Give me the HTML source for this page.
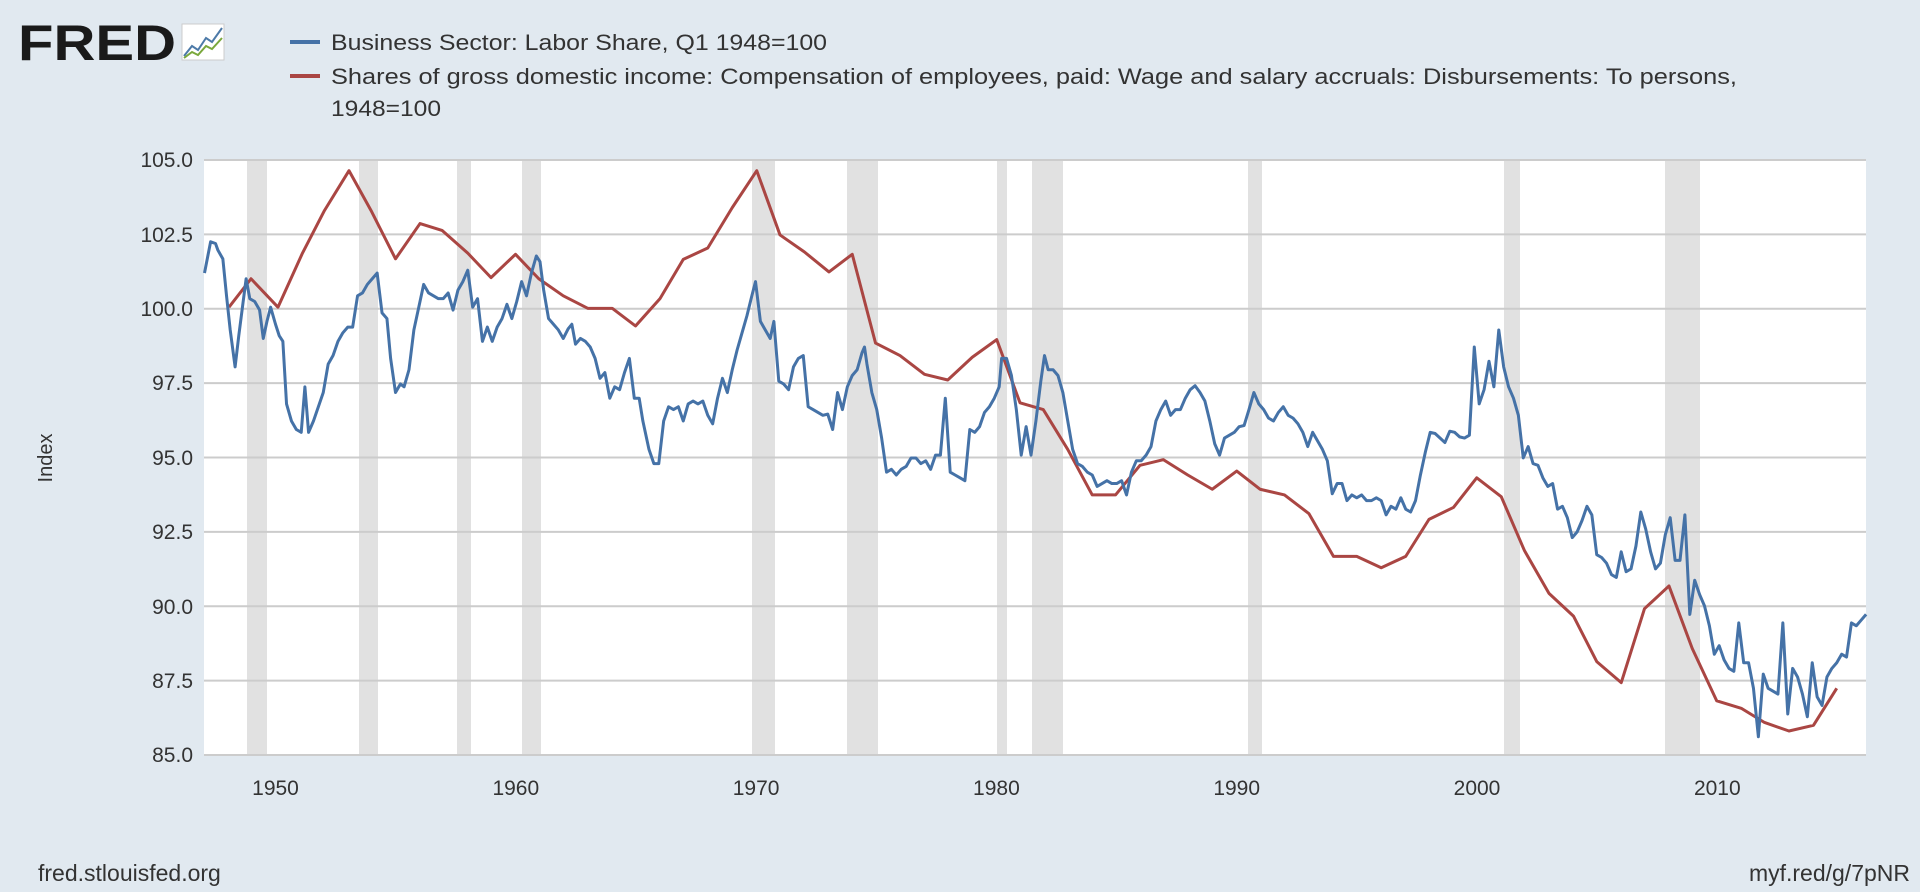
<!DOCTYPE html>
<html><head><meta charset="utf-8"><style>
html,body{margin:0;padding:0;background:#e1e9f0;}
svg{display:block;font-family:"Liberation Sans",sans-serif;}
</style></head><body>
<svg width="1920" height="892" viewBox="0 0 1920 892" xmlns="http://www.w3.org/2000/svg">
<rect width="1920" height="892" fill="#e1e9f0"/>
<!-- logo -->
<text x="18" y="60" font-size="50" font-weight="bold" fill="#1a1a1a" textLength="158" lengthAdjust="spacingAndGlyphs">FRED</text>
<rect x="182" y="24" width="42" height="36" fill="#fff" stroke="#ccc" stroke-width="1"/>
<polyline points="184,56 192,46 198,50 206,38 212,42 222,28" fill="none" stroke="#4d7aa8" stroke-width="2"/>
<polyline points="184,58 192,52 198,55 206,46 212,49 222,38" fill="none" stroke="#7aa83c" stroke-width="2"/>
<!-- legend -->
<line x1="290" y1="42" x2="320" y2="42" stroke="#4572a7" stroke-width="4"/>
<text x="331" y="50" font-size="22" fill="#333" textLength="496" lengthAdjust="spacingAndGlyphs">Business Sector: Labor Share, Q1 1948=100</text>
<line x1="290" y1="76" x2="320" y2="76" stroke="#aa4643" stroke-width="4"/>
<text x="331" y="84" font-size="22" fill="#333" textLength="1406" lengthAdjust="spacingAndGlyphs">Shares of gross domestic income: Compensation of employees, paid: Wage and salary accruals: Disbursements: To persons,</text>
<text x="331" y="116" font-size="22" fill="#333" textLength="110" lengthAdjust="spacingAndGlyphs">1948=100</text>
<!-- plot -->
<rect x="204" y="160" width="1662" height="595" fill="#fff"/>
<g fill="#e1e1e1">
<rect x="247" y="160" width="20" height="595"/><rect x="359" y="160" width="19" height="595"/>
<rect x="457" y="160" width="14" height="595"/><rect x="522" y="160" width="19" height="595"/>
<rect x="752" y="160" width="23" height="595"/><rect x="847" y="160" width="31" height="595"/>
<rect x="997" y="160" width="10" height="595"/><rect x="1032" y="160" width="31" height="595"/>
<rect x="1248" y="160" width="14" height="595"/><rect x="1504" y="160" width="16" height="595"/>
<rect x="1665" y="160" width="35" height="595"/>
</g>
<g stroke="#cccccc" stroke-width="2">
<line x1="204" y1="160" x2="1866" y2="160"/><line x1="204" y1="234.4" x2="1866" y2="234.4"/>
<line x1="204" y1="308.8" x2="1866" y2="308.8"/><line x1="204" y1="383.1" x2="1866" y2="383.1"/>
<line x1="204" y1="457.5" x2="1866" y2="457.5"/><line x1="204" y1="531.9" x2="1866" y2="531.9"/>
<line x1="204" y1="606.3" x2="1866" y2="606.3"/><line x1="204" y1="680.6" x2="1866" y2="680.6"/>
<line x1="204" y1="755" x2="1866" y2="755"/>
</g>
<g font-size="21" fill="#333" text-anchor="end">
<text x="193" y="167">105.0</text><text x="193" y="242">102.5</text><text x="193" y="316">100.0</text>
<text x="193" y="390">97.5</text><text x="193" y="465">95.0</text><text x="193" y="539">92.5</text>
<text x="193" y="614">90.0</text><text x="193" y="688">87.5</text><text x="193" y="762">85.0</text>
</g>
<text transform="translate(52,458) rotate(-90)" font-size="20" fill="#333" text-anchor="middle">Index</text>
<g font-size="21" fill="#333" text-anchor="middle">
<text x="275.5" y="795">1950</text><text x="515.8" y="795">1960</text><text x="756.1" y="795">1970</text>
<text x="996.4" y="795">1980</text><text x="1236.7" y="795">1990</text><text x="1477" y="795">2000</text>
<text x="1717.3" y="795">2010</text>
</g>
<g transform="scale(1.22449,0.568878)" fill="none" stroke-linejoin="round">
<polyline vector-effect="non-scaling-stroke" stroke="#aa4643" stroke-width="3" points="187,540 205,490 227,540 247,445 265,370 285,300 303,370 323,455 343,393 361,405 382,445 401,488 421,447 440,490 460,520 480,542 500,542 519,573 539,525 558,456 578,436 598,365 618,300 637,413 657,443 677,478 696,447 715,603 735,625 755,658 774,668 794,628 814,597 833,708 852,720 872,790 892,870 911,870 931,818 950,808 970,835 990,860 1010,828 1029,860 1049,870 1069,903 1089,978 1108,978 1128,998 1148,978 1167,913 1187,892 1206,840 1226,873 1245,968 1265,1043 1285,1083 1304,1163 1324,1200 1343,1070 1363,1030 1382,1140 1402,1232 1422,1245 1441,1270 1461,1285 1481,1275 1500,1210"/>
<polyline vector-effect="non-scaling-stroke" stroke="#4572a7" stroke-width="3" points="167,480 172,425 176,428 178,440 182,455 185,520 188,580 192,645 195,590 198,540 201,490 204,525 208,530 212,545 215,595 218,565 221,540 225,570 228,590 231,600 234,710 238,740 242,755 246,760 249,680 252,760 256,740 260,715 264,690 268,640 272,625 276,600 280,585 284,575 288,575 292,520 296,515 300,500 304,490 308,480 312,550 316,560 319,630 323,690 327,675 330,680 334,650 338,580 342,540 346,500 350,515 354,520 358,525 362,525 366,515 370,545 374,510 378,495 382,475 386,540 390,525 394,600 398,575 402,600 406,575 410,560 414,535 418,560 422,530 426,495 430,520 434,480 438,450 441,460 444,510 448,560 452,570 456,580 460,595 464,578 467,570 470,605 474,595 478,600 482,610 486,630 490,665 494,655 498,700 502,680 506,685 510,655 514,630 518,700 522,700 525,740 530,790 534,815 538,815 542,740 546,715 550,720 554,715 558,740 562,710 566,705 570,710 574,705 578,730 582,745 586,700 590,665 594,690 598,650 602,615 606,585 610,555 614,520 617,495 621,565 625,580 629,595 632,565 636,670 640,675 644,685 648,645 652,630 656,625 660,715 664,720 668,725 672,730 676,728 680,755 684,690 688,720 692,680 696,660 700,650 704,620 706,610 708,640 712,690 716,720 720,770 724,830 728,825 732,835 736,825 740,820 744,805 748,805 752,815 756,810 760,825 764,800 768,800 772,700 776,830 780,835 784,840 788,845 792,755 796,760 800,750 804,725 808,715 812,700 816,680 818,630 822,630 826,660 830,720 834,800 838,750 842,800 846,740 850,670 853,625 856,650 860,650 864,660 868,690 872,740 876,790 880,815 884,820 888,830 892,835 896,855 900,850 904,845 908,850 912,850 916,845 920,870 924,830 928,810 932,810 936,800 940,785 944,740 948,720 952,705 956,730 960,720 964,720 968,700 972,685 976,678 980,690 984,705 988,740 992,780 996,800 1000,770 1004,765 1008,760 1012,750 1016,748 1020,720 1024,690 1028,710 1032,720 1036,735 1040,740 1044,725 1048,715 1052,730 1056,735 1060,745 1064,760 1068,785 1072,760 1076,775 1080,790 1084,810 1088,868 1092,850 1096,850 1100,880 1104,870 1108,875 1112,870 1116,880 1120,880 1124,875 1128,880 1132,905 1136,890 1140,895 1144,875 1148,895 1152,900 1156,880 1160,835 1164,795 1168,760 1172,762 1176,770 1180,778 1184,758 1188,760 1192,768 1196,770 1200,765 1204,610 1208,710 1212,685 1216,635 1220,680 1224,580 1228,645 1232,680 1236,700 1240,730 1244,805 1248,785 1252,815 1256,818 1260,840 1264,855 1268,850 1272,895 1276,890 1280,910 1284,945 1288,935 1292,915 1296,890 1300,905 1304,975 1308,980 1312,990 1316,1010 1320,1015 1324,970 1328,1005 1332,1000 1336,960 1340,900 1344,930 1348,970 1352,1000 1356,990 1360,940 1364,910 1368,985 1372,985 1376,905 1380,1080 1384,1020 1388,1045 1392,1065 1396,1100 1400,1150 1404,1135 1408,1160 1412,1175 1416,1180 1420,1095 1424,1165 1428,1165 1432,1210 1436,1295 1440,1185 1444,1210 1448,1215 1452,1220 1456,1095 1460,1255 1464,1175 1468,1190 1472,1220 1476,1260 1480,1165 1484,1225 1488,1240 1492,1190 1496,1175 1500,1165 1504,1150 1508,1155 1512,1095 1516,1100 1520,1090 1524,1080"/>
</g>
<text x="38" y="881" font-size="23" fill="#333">fred.stlouisfed.org</text>
<text x="1910" y="881" font-size="23" fill="#333" text-anchor="end">myf.red/g/7pNR</text>
</svg>
</body></html>
